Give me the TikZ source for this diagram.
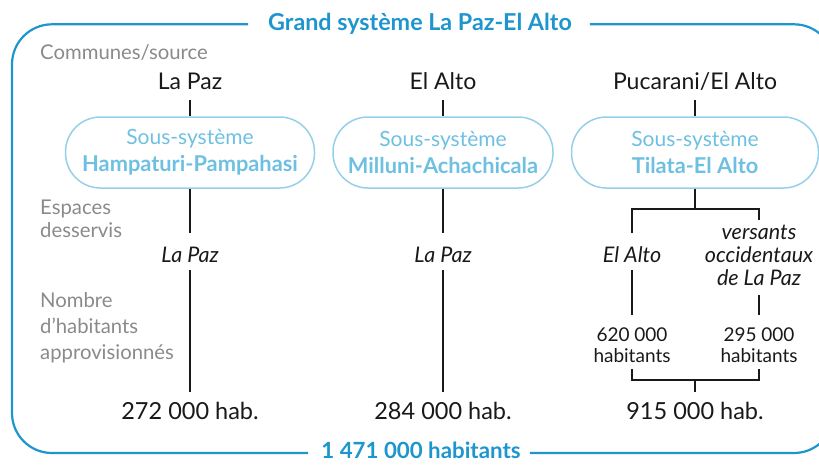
\documentclass[tikz,border=0pt]{standalone}
\usepackage{fontspec}
\setmainfont{Lato}
\usetikzlibrary{calc}
\definecolor{frameblue}{RGB}{30,150,205}
\definecolor{boxline}{RGB}{150,208,232}
\definecolor{boxtext}{RGB}{110,192,226}
\definecolor{labgray}{RGB}{138,138,138}
\definecolor{ink}{RGB}{25,25,25}
\tikzset{
  frame/.style={draw=frameblue, line width=2.2pt, rounded corners=40pt},
  heading/.style={text=frameblue, font=\fontsize{23.3}{26}\selectfont\bfseries, inner sep=0pt, anchor=base},
  graylab/.style={text=labgray, font=\fontsize{20.3}{23}\selectfont, align=left, anchor=base west, inner sep=0pt},
  commune/.style={text=ink, font=\fontsize{23}{27}\selectfont, inner sep=0pt, anchor=base},
  sysbox/.style={draw=boxline, line width=1.5pt, rounded corners=35pt, minimum height=71pt, text=boxtext, align=center, font=\fontsize{21}{27.3}\selectfont, inner sep=0pt},
  served/.style={text=ink, font=\fontsize{21.5}{23}\selectfont\itshape, align=center, inner sep=0pt, anchor=base},
  smallnum/.style={text=ink, font=\fontsize{19}{20.7}\selectfont, align=center, inner sep=0pt, anchor=base},
  hab/.style={text=ink, font=\fontsize{23.5}{27}\selectfont, inner sep=0pt, anchor=base},
  ln/.style={draw=ink, line width=1.2pt}
}
\newcommand{\sysname}[1]{{\fontsize{21.8}{27.3}\selectfont\bfseries #1}}
\begin{document}
\begin{tikzpicture}[x=1pt,y=-1pt]
\useasboundingbox (0,0) rectangle (819,467);
% headings
\node[heading] (title) at (420,30) {Grand système La Paz-El Alto};
\node[heading, font=\fontsize{22.3}{26}\selectfont\bfseries] (total) at (421,458.3) {1 471 000 habitants};
\coordinate (frametop) at (0,24.3);
\coordinate (framebot) at (0,453);
% frame
\draw[frame] ([xshift=-20pt]title.west |- frametop) -- (12,24.3) -- (12,453) -- ([xshift=-13pt]total.west |- framebot);
\draw[frame] ([xshift=9pt]total.east |- framebot) -- (834,453) -- (834,24.3) -- ([xshift=18pt]title.east |- frametop);
% row labels
\node[graylab] (lab1) at (40,59.5) {Communes/source};
\node[graylab] (lab2) at (40,237.7) {Espaces\\desservis};
\node[graylab, font=\fontsize{20.3}{25.8}\selectfont] (lab3) at (40,359.3) {Nombre\\d’habitants\\approvisionnés};
% communes
\node[commune] (top1) at (190,89.3) {La Paz};
\node[commune] (top2) at (443,89.3) {El Alto};
\node[commune] (top3) at (695,89.3) {Pucarani/El Alto};
% subsystems
\node[sysbox, minimum width=249pt] (box1) at (190,152.5) {Sous-système\\\sysname{Hampaturi-Pampahasi}};
\node[sysbox, minimum width=220pt] (box2) at (443,152.5) {Sous-système\\\sysname{Milluni-Achachicala}};
\node[sysbox, minimum width=247pt] (box3) at (695,152.5) {Sous-système\\\sysname{Tilata-El Alto}};
% served areas
\node[served] (sd1) at (190,262.3) {La Paz};
\node[served] (sd2) at (443,262.3) {La Paz};
\node[served] (sdA) at (632,262.3) {El Alto};
\node[served] (sdB) at (759,285) {versants\\occidentaux\\de La Paz};
% numbers
\node[smallnum] (numA) at (632,362.3) {620 000\\habitants};
\node[smallnum] (numB) at (759,362.3) {295 000\\habitants};
\node[hab] (hab1) at (190,419) {272 000 hab.};
\node[hab] (hab2) at (443,419) {284 000 hab.};
\node[hab] (hab3) at (695,419) {915 000 hab.};
\coordinate (split) at (695,209);
\coordinate (join) at (695,380);
% connectors
\foreach \t/\b in {top1/box1,top2/box2,top3/box3}
  \draw[ln] ($(\t.base)+(0,10.7)$) -- (\b.north);
\foreach \b/\s/\h in {box1/sd1/hab1,box2/sd2/hab2}{
  \draw[ln] (\b.south) -- ($(\s.base)+(0,-29.3)$);
  \draw[ln] ($(\s.base)+(0,7.7)$) -- ($(\h.base)+(0,-27)$);
}
\draw[ln] (box3.south) -- (split);
\draw[ln] ($(sdA.base)+(0,-29.3)$) |- (split) -| ($(sdB.base)+(0,-65)$);
\draw[ln] ($(sdA.base)+(0,7.7)$) -- ($(numA.base)+(0,-47.3)$);
\draw[ln] ($(sdB.base)+(0,10)$) -- ($(numB.base)+(0,-47.3)$);
\draw[ln] ($(numA.base)+(0,6.7)$) |- (join) -| ($(numB.base)+(0,6.7)$);
\draw[ln] (join) -- ($(hab3.base)+(0,-27)$);
\end{tikzpicture}
\end{document}
